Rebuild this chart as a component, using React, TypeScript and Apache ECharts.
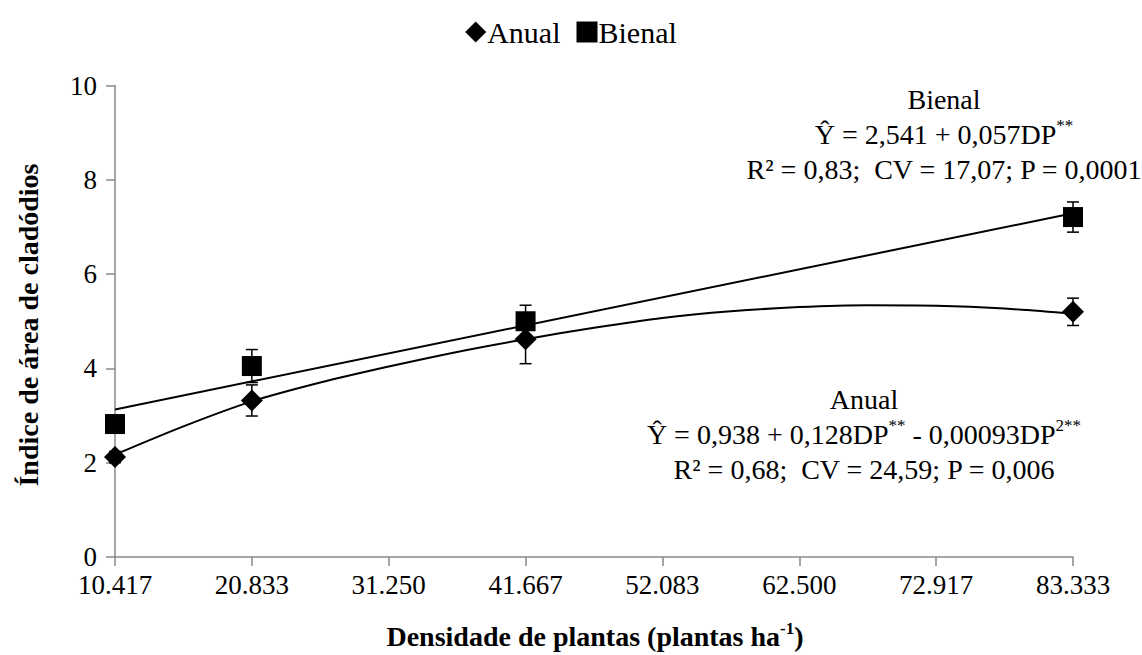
import React, { useEffect, useRef } from "react";
import * as echarts from "echarts";

const X_TICKS = ["10.417", "20.833", "31.250", "41.667", "52.083", "62.500", "72.917", "83.333"];
const DENSITY = [10.417, 20.833, 41.667, 83.333];
const ANUAL = [2.12, 3.32, 4.62, 5.2];
const ANUAL_ERR = [0.12, 0.33, 0.52, 0.29];
const BIENAL = [2.82, 4.05, 5.0, 7.21];
const BIENAL_ERR = [0.1, 0.35, 0.34, 0.32];
// trend curves
const ANUAL_TREND_X = [10.417, 15.625, 20.833, 26.042, 31.25, 36.458, 41.667, 46.875, 52.083, 57.292, 62.5, 67.708, 72.917, 78.125, 83.333];
const ANUAL_TREND_Y = [2.17, 2.77, 3.3, 3.7, 4.04, 4.35, 4.62, 4.86, 5.07, 5.21, 5.3, 5.34, 5.33, 5.27, 5.16];
const BIENAL_TREND_X = [10.417, 83.333];
const BIENAL_TREND_Y = [3.13, 7.29];

const FONT = "Liberation Serif";
const INTERVAL = 125 / 12;

export default function App() {
  const ref = useRef<HTMLDivElement>(null);
  useEffect(() => {
    if (!ref.current) return;
    const chart = echarts.init(ref.current, null, { renderer: "svg" });
    const errData: any[] = [];
    DENSITY.forEach((x, i) => {
      errData.push([x, ANUAL[i] - ANUAL_ERR[i], ANUAL[i] + ANUAL_ERR[i]]);
      errData.push([x, BIENAL[i] - BIENAL_ERR[i], BIENAL[i] + BIENAL_ERR[i]]);
    });
    const txt = { fontFamily: FONT, fontSize: 27, color: "#000" };
    const sup = { fontFamily: FONT, fontSize: 17, color: "#000", verticalAlign: "top" };
    const norm = { fontFamily: FONT, fontSize: 28, color: "#000" };
    chart.setOption({
      animation: false,
      backgroundColor: "#fff",
      grid: { left: 115, right: 69, top: 85.5, bottom: 98, containLabel: false },
      legend: {
        top: 12,
        left: "center",
        itemWidth: 21,
        itemHeight: 21,
        itemGap: 16,
        data: [
          { name: "Anual", icon: "diamond", itemStyle: { color: "#000", opacity: 1 } },
          { name: "Bienal", icon: "rect", itemStyle: { color: "#000", opacity: 1 } },
        ],
        textStyle: { ...txt, fontSize: 30, padding: [0, 0, 0, -4] },
      },
      xAxis: {
        type: "value",
        min: INTERVAL,
        max: INTERVAL * 8,
        interval: INTERVAL,
        splitLine: { show: false },
        axisLine: { lineStyle: { color: "#898989", width: 1.5 } },
        axisTick: { show: true, length: 9, lineStyle: { color: "#898989", width: 1.5 } },
        axisLabel: {
          ...txt,
          margin: 16,
          lineHeight: 24,
          formatter: (v: number) => X_TICKS[Math.round(v / INTERVAL) - 1] ?? "",
        },
      },
      yAxis: {
        type: "value",
        min: 0,
        max: 10,
        interval: 2,
        splitLine: { show: false },
        axisLine: { show: true, lineStyle: { color: "#898989", width: 1.5 } },
        axisTick: { show: true, length: 9, lineStyle: { color: "#898989", width: 1.5 } },
        axisLabel: { ...txt, margin: 18, lineHeight: 20 },
      },
      series: [
        {
          name: "Anual ajuste",
          type: "line",
          smooth: 0.3,
          showSymbol: false,
          symbol: "none",
          data: ANUAL_TREND_X.map((x, i) => [x, ANUAL_TREND_Y[i]]),
          lineStyle: { color: "#000", width: 2 },
          z: 1,
        },
        {
          name: "Bienal ajuste",
          type: "line",
          showSymbol: false,
          symbol: "none",
          data: BIENAL_TREND_X.map((x, i) => [x, BIENAL_TREND_Y[i]]),
          lineStyle: { color: "#000", width: 2 },
          z: 1,
        },
        {
          name: "erros",
          type: "custom",
          data: errData,
          z: 2,
          renderItem: (params: any, api: any) => {
            const x = api.value(0);
            const lo = api.coord([x, api.value(1)]);
            const hi = api.coord([x, api.value(2)]);
            const w = 6;
            const st = { stroke: "#000", lineWidth: 1.5 };
            return {
              type: "group",
              children: [
                { type: "line", shape: { x1: lo[0], y1: lo[1], x2: hi[0], y2: hi[1] }, style: st },
                { type: "line", shape: { x1: lo[0] - w, y1: lo[1], x2: lo[0] + w, y2: lo[1] }, style: st },
                { type: "line", shape: { x1: hi[0] - w, y1: hi[1], x2: hi[0] + w, y2: hi[1] }, style: st },
              ],
            };
          },
        },
        {
          name: "Anual",
          type: "scatter",
          symbol: "diamond",
          symbolSize: 22,
          itemStyle: { color: "#000", opacity: 1 },
          data: DENSITY.map((x, i) => [x, ANUAL[i]]),
          z: 3,
        },
        {
          name: "Bienal",
          type: "scatter",
          symbol: "rect",
          symbolSize: 20,
          itemStyle: { color: "#000", opacity: 1 },
          data: DENSITY.map((x, i) => [x, BIENAL[i]]),
          z: 3,
        },
      ],
      graphic: [
        {
          type: "text",
          x: 28,
          y: 325,
          rotation: Math.PI / 2,
          style: {
            text: "Índice de área de cladódios",
            fontFamily: FONT,
            fontSize: 28,
            fontWeight: "bold",
            fill: "#000",
            align: "center",
            verticalAlign: "middle",
          },
        },
        {
          type: "text",
          x: 595,
          y: 636,
          style: {
            text: "{b|Densidade de plantas (plantas ha}{s|-1}{b|)}",
            align: "center",
            verticalAlign: "middle",
            rich: {
              b: { fontFamily: FONT, fontSize: 28, fontWeight: "bold", color: "#000", lineHeight: 32 },
              s: { fontFamily: FONT, fontSize: 17, fontWeight: "bold", color: "#000", lineHeight: 32, verticalAlign: "top" },
            },
          },
        },
        {
          type: "text",
          x: 944,
          y: 134,
          style: {
            text: "{n|Bienal}\n{n|Ŷ = 2,541 + 0,057DP}{s|**}\n{n|R² = 0,83;  CV = 17,07; P = 0,0001}",
            align: "center",
            verticalAlign: "middle",
            rich: { n: { ...norm, lineHeight: 35 }, s: { ...sup, lineHeight: 35 } },
          },
        },
        {
          type: "text",
          x: 864,
          y: 434,
          style: {
            text: "{n|Anual}\n{n|Ŷ = 0,938 + 0,128DP}{s|**}{n| - 0,00093DP}{s|2**}\n{n|R² = 0,68;  CV = 24,59; P = 0,006}",
            align: "center",
            verticalAlign: "middle",
            rich: { n: { ...norm, lineHeight: 35 }, s: { ...sup, lineHeight: 35 } },
          },
        },
      ],
    });
    return () => chart.dispose();
  }, []);
  return (
    <div
      ref={ref}
      style={{ position: "fixed", left: 0, top: 0, width: 1142, height: 655, background: "#fff" }}
    />
  );
}
